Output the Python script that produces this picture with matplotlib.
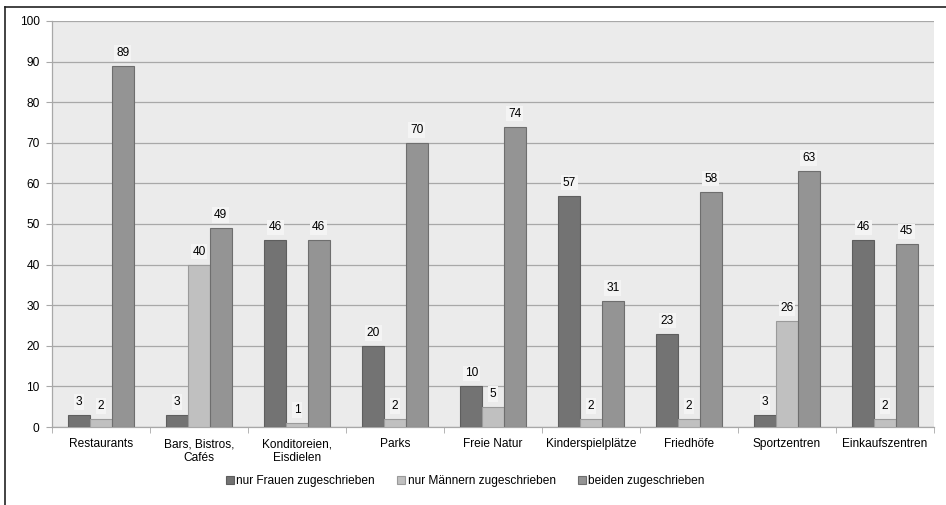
import numpy as np
import matplotlib
matplotlib.use("Agg")
import matplotlib.pyplot as plt
from matplotlib.lines import Line2D

plt.rcParams['font.family'] = ['Liberation Sans', 'DejaVu Sans']

categories = ["Restaurants", "Bars, Bistros,\nCafés", "Konditoreien,\nEisdielen", "Parks",
              "Freie Natur", "Kinderspielplätze", "Friedhöfe", "Sportzentren", "Einkaufszentren"]
frauen = [3, 3, 46, 20, 10, 57, 23, 3, 46]
maenner = [2, 40, 1, 2, 5, 2, 2, 26, 2]
beide = [89, 49, 46, 70, 74, 31, 58, 63, 45]
series_names = ["nur Frauen zugeschrieben", "nur Männern zugeschrieben", "beiden zugeschrieben"]
yticks = list(range(0, 101, 10))

colors = ["#737373", "#c0c0c0", "#949494"]
edges = ["#5e5e5e", "#9a9a9a", "#6e6e6e"]
grid_col = "#a8a8a8"
FS = 8.6

fig = plt.figure(figsize=(9.46, 5.05), dpi=100)
ax = fig.add_axes([52 / 946, 1 - 427 / 505, (934 - 52) / 946, (427 - 21) / 505])
ax.set_facecolor("#ebebeb")

x = np.arange(len(categories))
w = 1 / 4.5
for i, vals in enumerate([frauen, maenner, beide]):
    bars = ax.bar(x + (i - 1) * w, vals, w, color=colors[i], edgecolor=edges[i],
                  linewidth=0.8, label=series_names[i], zorder=3)
    for b, v in zip(bars, vals):
        ax.annotate(str(v), (b.get_x() + b.get_width() / 2, v), xytext=(0, 5),
                    textcoords="offset points", ha="center", va="bottom", fontsize=FS,
                    zorder=4, bbox=dict(boxstyle="square,pad=0.15", fc="#f4f4f4", ec="none"))

ax.set_xlim(-0.5, len(categories) - 0.5)
ax.set_ylim(0, 100)
ax.set_yticks(yticks)
ax.yaxis.grid(True, color=grid_col, linewidth=0.9, zorder=1)
ax.set_axisbelow(True)
ax.tick_params(axis="y", length=4, color=grid_col, labelsize=FS, pad=5)

ax.set_xticks(x)
ax.set_xticklabels(categories, fontsize=FS, linespacing=1.2)
ax.tick_params(axis="x", length=0, pad=8)
ax.set_xticks(np.arange(-0.5, len(categories)), minor=True)
ax.tick_params(axis="x", which="minor", length=4, color=grid_col)

for s in ["top", "right"]:
    ax.spines[s].set_visible(False)
for s in ["left", "bottom"]:
    ax.spines[s].set_color(grid_col)
    ax.spines[s].set_linewidth(0.9)

leg = fig.legend(loc="center", bbox_to_anchor=(0.492, 1 - 481 / 505), ncol=3, frameon=False,
                 fontsize=FS, handlelength=0.65, handleheight=0.65, handletextpad=0.2,
                 columnspacing=1.9)

# outer frame (only left and top edges visible in the image)
fig.add_artist(Line2D([5 / 946, 5 / 946], [0, 1 - 7 / 505], color="#222222", linewidth=1.2))
fig.add_artist(Line2D([5 / 946, 1], [1 - 7 / 505, 1 - 7 / 505], color="#222222", linewidth=1.2))

fig.savefig("out.png", dpi=100, facecolor="white")
